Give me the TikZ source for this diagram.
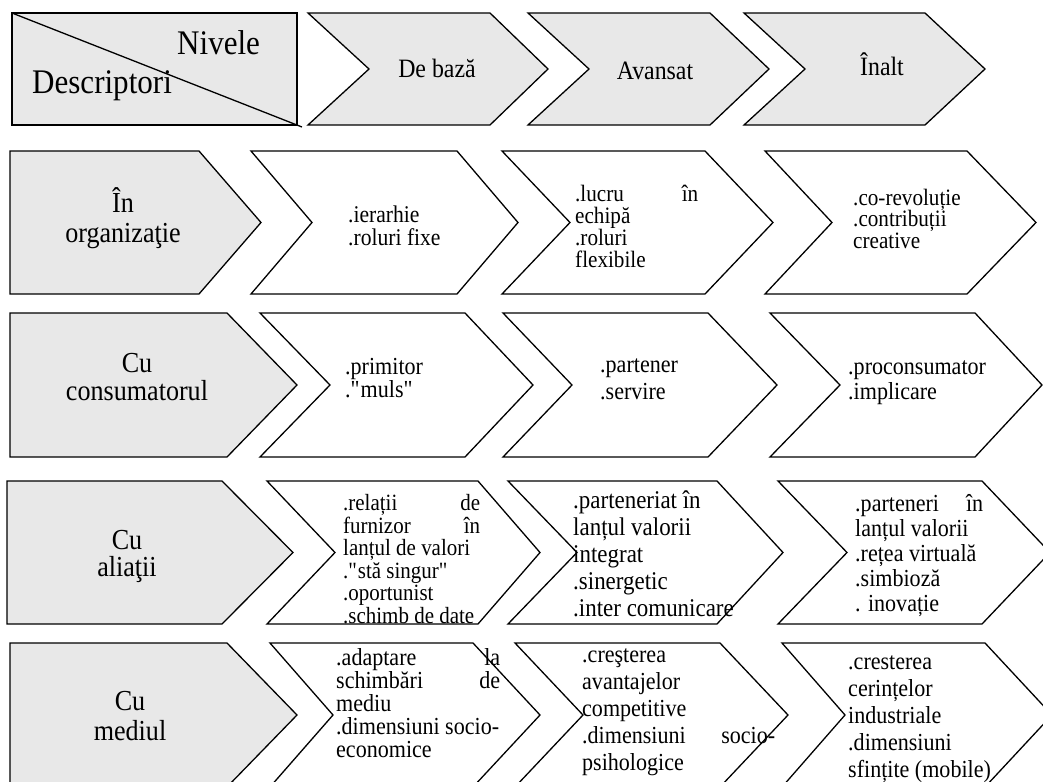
\documentclass[tikz,border=0pt]{standalone}
\usepackage{fontspec}
\setmainfont{Liberation Serif}[FakeStretch=0.9]
\definecolor{panel}{RGB}{232,232,232}
% chevron: left x, notch x, shoulder x, tip x, top y, bottom y, middle y, style
\newcommand\chevcell[8]{\draw[#8] (#1,#5) -- (#3,#5) -- (#4,#7) -- (#3,#6) -- (#1,#6) -- (#2,#7) -- cycle;}
% pentagon: left x, shoulder x, tip x, top y, bottom y, middle y, style
\newcommand\pentcell[7]{\draw[#7] (#1,#4) -- (#2,#4) -- (#3,#6) -- (#2,#5) -- (#1,#5) -- cycle;}
\newcommand\fs[2]{\fontsize{#1pt}{#2pt}\selectfont}
\newcommand\jl[3]{\makebox[#1pt][s]{#2\hfill #3}}
\tikzset{
  outline/.style={draw=black, line width=1.3pt, line join=miter},
  headcell/.style={outline, fill=panel},
  bodycell/.style={outline, fill=white},
  txt/.style={inner sep=0pt, anchor=north west, align=left, execute at begin node=\strut},
  lbl/.style={inner sep=0pt, anchor=north, align=center, execute at begin node=\strut},
  one/.style={inner sep=0pt, anchor=base},
}
\begin{document}
\begin{tikzpicture}[x=1pt,y=-1pt]
\useasboundingbox (0,0) rectangle (1043,781);
\clip (0,0) rectangle (1043,781);

% header row
\draw[headcell] (12,13) rectangle (297,125);
\draw[line width=1.3pt] (12,13) -- (302,127);
\chevcell{308}{369}{490}{548}{13}{125}{69}{headcell}
\chevcell{528}{589}{710}{769}{13}{125}{69}{headcell}
\chevcell{744}{805}{925}{985}{13}{125}{69}{headcell}

% row 1
\pentcell{10}{199}{261}{151}{294}{222.5}{headcell}
\chevcell{251}{312}{457}{518}{151}{294}{222.5}{bodycell}
\chevcell{502}{570}{705}{773}{151}{294}{222.5}{bodycell}
\chevcell{765}{832}{967}{1036}{151}{294}{222.5}{bodycell}

% row 2
\pentcell{10}{227}{297}{313}{457}{385}{headcell}
\chevcell{260}{330}{465}{533}{313}{457}{385}{bodycell}
\chevcell{503}{572}{708}{777}{313}{457}{385}{bodycell}
\chevcell{770}{840}{975}{1042}{313}{457}{385}{bodycell}

% row 3
\pentcell{7}{222}{293}{481}{624}{552.5}{headcell}
\chevcell{267}{335}{478}{540}{481}{624}{552.5}{bodycell}
\chevcell{508}{577}{717}{783}{481}{624}{552.5}{bodycell}
\chevcell{778}{847}{982}{1050}{481}{624}{552.5}{bodycell}

% row 4
\pentcell{10}{227}{297}{643}{787}{715}{headcell}
\chevcell{270}{333}{473}{540}{643}{787}{715}{bodycell}
\chevcell{515}{583}{720}{788}{643}{787}{715}{bodycell}
\chevcell{782}{845}{985}{1052}{643}{787}{715}{bodycell}

% header texts
\node[one, anchor=base west, font=\fs{34.5}{38}] (nivele) at (177,55) {Nivele};
\node[one, anchor=base west, font=\fs{34.5}{38}] (descr) at (32,94) {Descriptori};
\node[one, font=\fs{26.5}{30}] (hbaza) at (437,78) {De bază};
\node[one, font=\fs{26.5}{30}] (havansat) at (655,80) {Avansat};
\node[one, font=\fs{26.5}{30}] (hinalt) at (882,76) {Înalt};

% row labels
\node[lbl, font=\fs{29}{30}] (lorg) at (123,208-0.7*30) {În\\organizaţie};
\node[lbl, font=\fs{29}{28}] (lcons) at (137,373-0.7*28) {Cu\\consumatorul};
\node[lbl, font=\fs{29}{27}] (lali) at (127,549-0.7*27) {Cu\\aliaţii};
\node[lbl, font=\fs{29}{30}] (lmed) at (130,712-0.7*30) {Cu\\mediul};

% row 1 descriptors
\node[txt, font=\fs{24}{23}] (a1) at (348,222-0.7*23) {.ierarhie\\.roluri fixe};
\node[txt, font=\fs{23.5}{22}] (a2) at (575,200-0.7*22) {\jl{123}{.lucru}{în}\\echipă\\.roluri\\flexibile};
\node[txt, font=\fs{23.5}{21.5}] (a3) at (853,204-0.7*21.5) {.co-revoluție\\.contribuții\\creative};

% row 2 descriptors
\node[txt, font=\fs{24.5}{22}] (b1) at (345,373-0.7*22) {.primitor\\.\textquotedbl muls\textquotedbl};
\node[txt, font=\fs{24.5}{27}] (b2) at (600,377-0.7*27) {.partener\\.servire};
\node[txt, font=\fs{24.5}{25}] (b3) at (848,378-0.7*25) {.proconsumator\\.implicare};

% row 3 descriptors
\node[txt, font=\fs{23.3}{22.5}] (c1) at (343,510-0.7*22.5) {\jl{137}{.relații}{de}\\\jl{137}{furnizor}{în}\\lanțul de valori\\.\textquotedbl stă singur\textquotedbl\\.oportunist\\.schimb de date};
\node[txt, font=\fs{25.5}{27}] (c2) at (573,509-0.7*27) {.parteneriat în\\lanțul valorii\\integrat\\.sinergetic\\.inter comunicare};
\node[txt, font=\fs{24.5}{25}] (c3) at (855,512-0.7*25) {\jl{128}{.parteneri}{în}\\lanțul valorii\\.rețea virtuală\\.simbioză\\. inovație};

% row 4 descriptors
\node[txt, font=\fs{24.5}{23}] (d1) at (336,664-0.7*23) {\jl{164}{.adaptare}{la}\\\jl{164}{schimbări}{de}\\mediu\\.dimensiuni socio-\\economice};
\node[txt, font=\fs{24.5}{27}] (d2) at (582,667-0.7*27) {.creşterea\\avantajelor\\competitive\\\jl{193}{.dimensiuni}{socio-}\\psihologice};
\node[txt, font=\fs{24.5}{27}] (d3) at (848,674-0.7*27) {.cresterea\\cerințelor\\industriale\\.dimensiuni\\sfințite (mobile)};
\end{tikzpicture}
\end{document}
